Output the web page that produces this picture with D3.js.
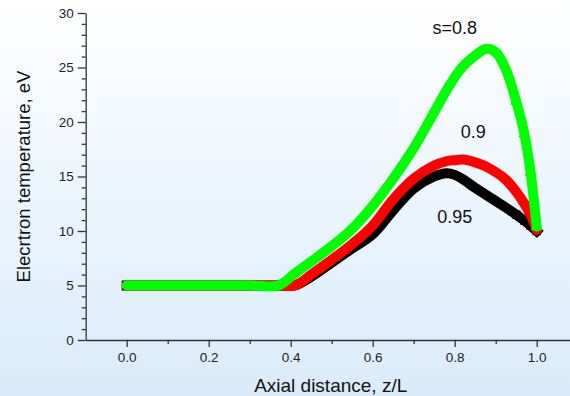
<!DOCTYPE html>
<html>
<head>
<meta charset="utf-8">
<script src="https://cdn.jsdelivr.net/npm/d3@7"></script>
<style>
  html, body { margin: 0; padding: 0; background: #fff; }
  svg { display: block; font-family: "Liberation Sans", Arial, sans-serif; }
</style>
</head>
<body>
<svg id="chart" width="570" height="396"></svg>
<script>
// Axial positions (z/L) shared by all three profiles
const zPos = [0, 0.1, 0.2, 0.3, 0.37, 0.41, 0.45, 0.5, 0.55, 0.6, 0.65, 0.7, 0.75,
              0.78, 0.8, 0.82, 0.85, 0.875, 0.9, 0.925, 0.95, 0.97, 0.985, 1.0];

// Electron temperature (eV) for each value of s
const tempS080 = [5, 5, 5, 5, 5.0, 6.1, 7.2, 8.6, 10.2, 12.3, 14.8, 17.6, 20.9,
                  22.9, 24.1, 25.1, 26.1, 26.7, 26.4, 24.8, 21.9, 18.9, 15.4, 10.4];
const tempS090 = [5, 5, 5, 5, 5.0, 5.0, 6.0, 7.35, 8.8, 10.5, 12.9, 14.8, 16.0,
                  16.4, 16.5, 16.55, 16.3, 15.95, 15.4, 14.7, 13.6, 12.5, 11.5, 10.1];
const tempS095 = [5, 5, 5, 5, 5.0, 5.0, 5.8, 7.1, 8.4, 9.7, 11.9, 13.9, 15.0,
                  15.3, 15.15, 14.75, 13.95, 13.35, 12.75, 12.15, 11.5, 10.95, 10.5, 10.0];

const seriesNames = ["0.95", "0.9", "s=0.8"];
const seriesColors = ["#000000", "#ff0000", "#00ff00"];
const seriesSymbols = [d3.symbolSquare, d3.symbolCircle, d3.symbolTriangle];

// Axis ticks
const xMajor = [0, 0.2, 0.4, 0.6, 0.8, 1.0];
const xMinor = [0.1, 0.3, 0.5, 0.7, 0.9, 1.1];
const yMajor = [0, 5, 10, 15, 20, 25, 30];
const yMinor = d3.range(0, 31).filter(v => v % 5 !== 0);

// Curve label positions given in data units
const labelZ = [0.8, 0.845, 0.8];
const labelT = [10.7, 18.5, 28.1];

const svg = d3.select("#chart");
const W = 570, H = 396;

// Background gradient
const defs = svg.append("defs");
const grad = defs.append("linearGradient").attr("id", "bg")
  .attr("x1", 0).attr("y1", 0).attr("x2", 0).attr("y2", 1);
grad.append("stop").attr("offset", "0%").attr("stop-color", "#ffffff");
grad.append("stop").attr("offset", "100%").attr("stop-color", "#d9ebfb");
svg.append("rect").attr("width", W).attr("height", H).attr("fill", "url(#bg)");

const x = d3.scaleLinear().domain([-0.1, 1.1]).range([85.7, 577.7]);
const y = d3.scaleLinear().domain([0, 30]).range([340, 13]);

const axisColor = "#333";

// X axis
const gx = svg.append("g").attr("transform", `translate(0,${y(0)})`);
gx.call(d3.axisBottom(x).tickValues(xMajor).tickFormat(d3.format(".1f"))
  .tickSize(7).tickSizeOuter(0).tickPadding(5));
gx.append("g").call(d3.axisBottom(x).tickValues(xMinor).tickFormat("")
  .tickSize(4).tickSizeOuter(0))
  .select(".domain").remove();

// Y axis
const gy = svg.append("g").attr("transform", `translate(${x(-0.1)},0)`);
gy.call(d3.axisLeft(y).tickValues(yMajor).tickFormat(d3.format("d"))
  .tickSize(8).tickSizeOuter(0).tickPadding(4));
gy.append("g").call(d3.axisLeft(y).tickValues(yMinor).tickFormat("")
  .tickSize(4).tickSizeOuter(0))
  .select(".domain").remove();

svg.selectAll(".domain, .tick line").attr("stroke", axisColor).attr("stroke-width", 1.3);
svg.selectAll(".tick text").attr("fill", "#222").style("font-size", "13.5px")
  .style("font-family", "'Liberation Sans', Arial, sans-serif");

// Profiles: thick smooth band, with symbols where the profile is steep
const allTemps = [tempS095, tempS090, tempS080];
const line = d3.line().x(d => x(d[0])).y(d => y(d[1])).curve(d3.curveCatmullRom.alpha(0.5));

allTemps.forEach((temps, i) => {
  const pts = zPos.map((z, k) => [z, temps[k]]);
  const g = svg.append("g");
  g.append("path").datum(pts)
    .attr("d", line)
    .attr("fill", "none")
    .attr("stroke", seriesColors[i])
    .attr("stroke-width", 10)
    .attr("stroke-linejoin", "round")
    .attr("stroke-linecap", i === 0 ? "square" : "round");
  const sym = d3.symbol().type(seriesSymbols[i]).size(i === 2 ? 64 : 70);
  const steep = pts.filter(d => d[0] >= 0.95);
  g.selectAll("path.mk").data(steep).join("path")
    .attr("class", "mk")
    .attr("transform", d => `translate(${x(d[0])},${y(d[1])})`)
    .attr("d", sym)
    .attr("fill", seriesColors[i]);
});

// Curve labels
seriesNames.forEach((name, i) => {
  svg.append("text")
    .attr("x", x(labelZ[i])).attr("y", y(labelT[i]))
    .attr("text-anchor", "middle")
    .attr("fill", "#111")
    .style("font-size", "18px")
    .text(name);
});

// Axis titles
svg.append("text")
  .attr("x", (x(-0.1) + x(1.1)) / 2 - 1).attr("y", 391.5)
  .attr("text-anchor", "middle").attr("fill", "#111")
  .style("font-size", "19px")
  .text("Axial distance, z/L");

svg.append("text")
  .attr("transform", `translate(29.5,${(y(0) + y(30)) / 2}) rotate(-90)`)
  .attr("text-anchor", "middle").attr("fill", "#111")
  .style("font-size", "18.5px")
  .text("Elecrtron temperature, eV");
</script>
</body>
</html>
